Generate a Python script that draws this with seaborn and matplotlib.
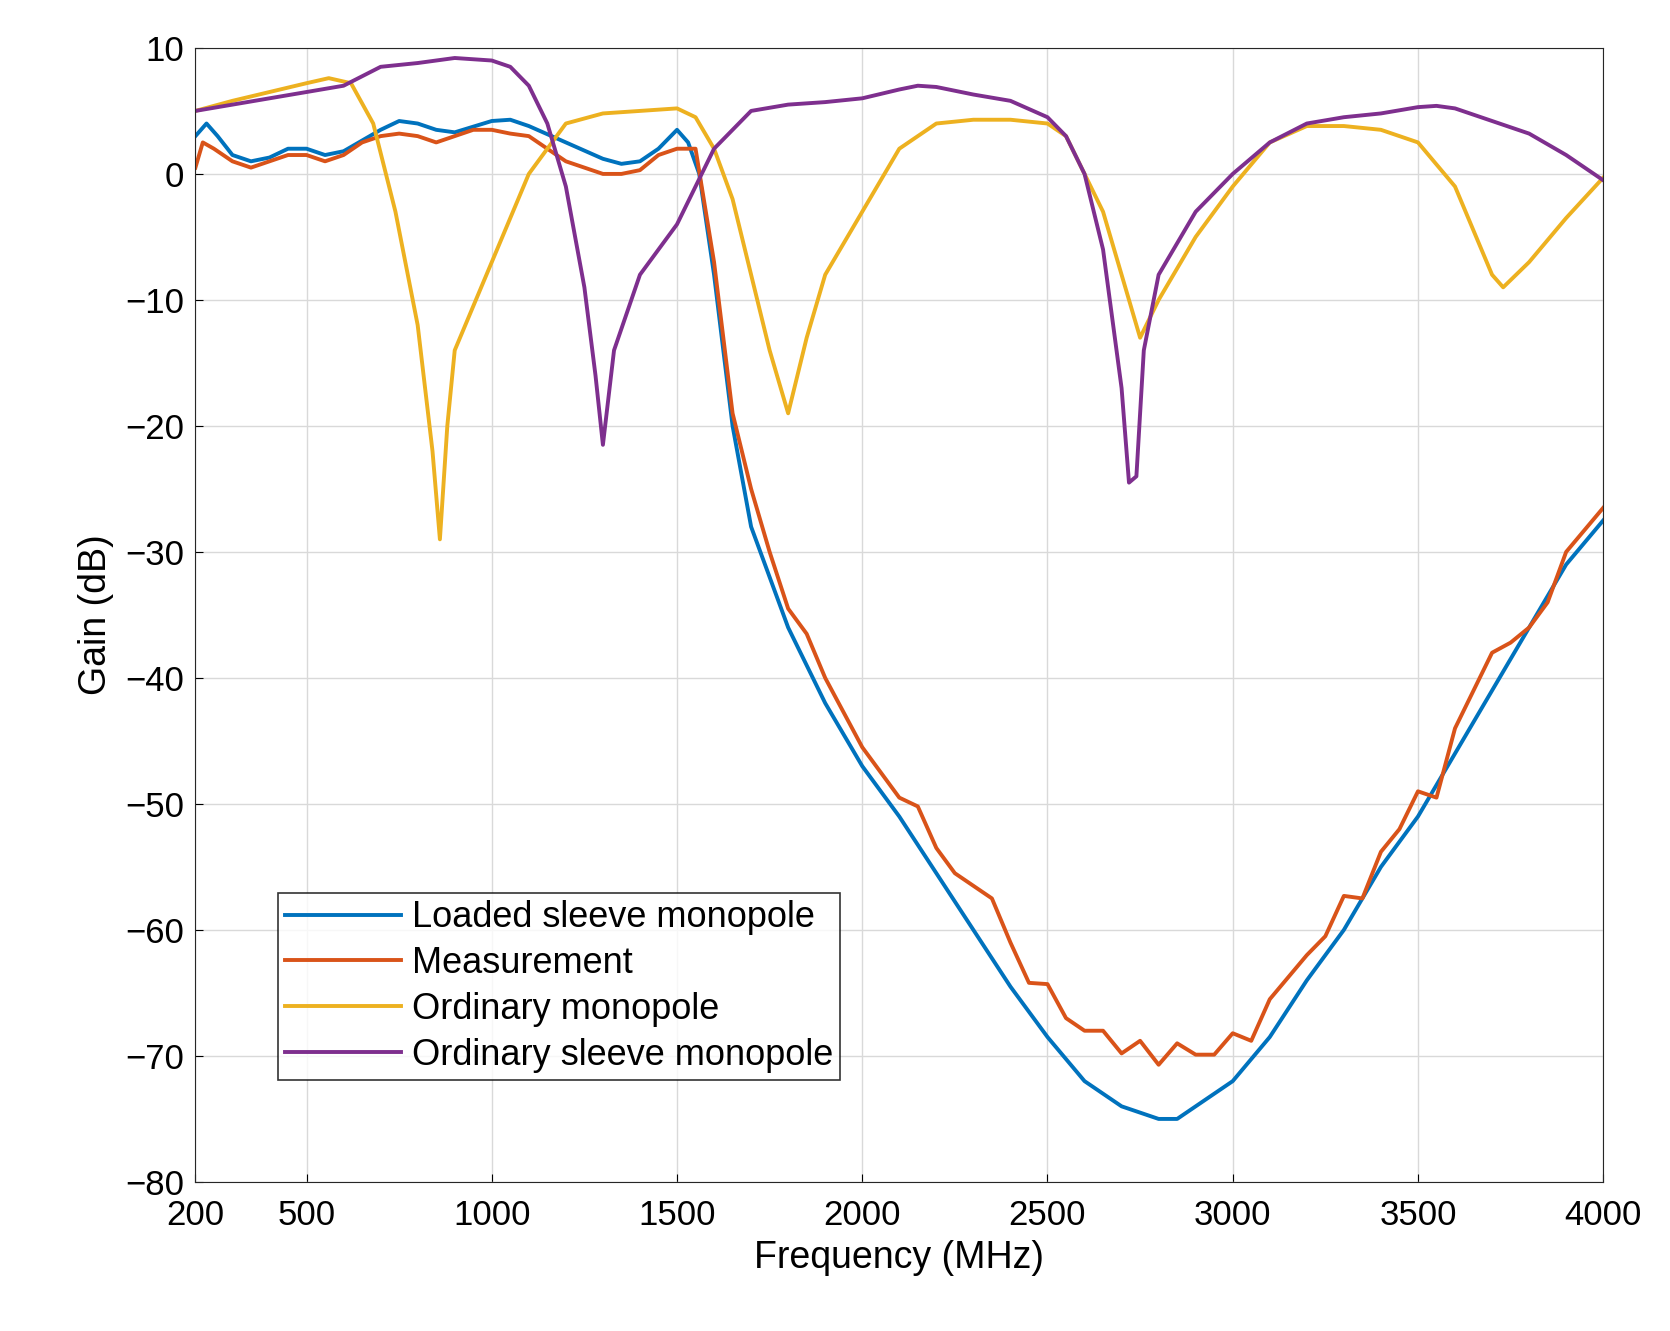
import matplotlib
matplotlib.use("Agg")
import matplotlib.pyplot as plt
import seaborn as sns
import pandas as pd

f_loaded = [200,230,260,300,350,400,450,500,550,600,700,750,800,850,900,1000,1050,1100,1200,1300,1350,1400,1450,1500,1530,1560,1600,1650,1700,1800,1900,2000,2100,2200,2300,2400,2500,2600,2700,2800,2850,2900,3000,3100,3200,3300,3400,3500,3600,3700,3800,3900,4000]
g_loaded = [3,4,3,1.5,1,1.3,2,2,1.5,1.8,3.5,4.2,4,3.5,3.3,4.2,4.3,3.8,2.5,1.2,0.8,1,2,3.5,2.5,0,-8,-20,-28,-36,-42,-47,-51,-55.5,-60,-64.5,-68.5,-72,-74,-75,-75,-74,-72,-68.5,-64,-60,-55,-51,-46,-41,-36,-31,-27.5]

f_meas = [200,220,250,300,350,400,450,500,550,600,650,700,750,800,850,900,950,1000,1050,1100,1200,1300,1350,1400,1450,1500,1550,1600,1650,1700,1750,1800,1850,1900,2000,2100,2150,2200,2250,2300,2350,2400,2450,2500,2550,2600,2650,2700,2750,2800,2850,2900,2950,3000,3050,3100,3200,3250,3300,3350,3400,3450,3500,3550,3600,3700,3750,3800,3850,3900,4000]
g_meas = [0.5,2.5,2,1,0.5,1,1.5,1.5,1,1.5,2.5,3,3.2,3,2.5,3,3.5,3.5,3.2,3,1,0,0,0.3,1.5,2,2,-7,-19,-25,-30,-34.5,-36.5,-40,-45.5,-49.5,-50.2,-53.5,-55.5,-56.5,-57.5,-61,-64.2,-64.3,-67,-68,-68,-69.8,-68.8,-70.7,-69,-69.9,-69.9,-68.2,-68.8,-65.5,-62,-60.5,-57.3,-57.5,-53.8,-52,-49,-49.5,-44,-38,-37.2,-36,-34,-30,-26.5]

f_ord = [200,300,400,500,560,620,680,740,800,840,860,880,900,1000,1100,1200,1300,1400,1500,1550,1600,1650,1700,1750,1800,1850,1900,2000,2100,2200,2300,2400,2500,2550,2600,2650,2700,2750,2800,2900,3000,3100,3200,3300,3400,3500,3600,3700,3730,3800,3900,4000]
g_ord = [5,5.8,6.5,7.2,7.6,7.2,4,-3,-12,-22,-29,-20,-14,-7,0,4,4.8,5,5.2,4.5,2,-2,-8,-14,-19,-13,-8,-3,2,4,4.3,4.3,4,3,0,-3,-8,-13,-10,-5,-1,2.5,3.8,3.8,3.5,2.5,-1,-8,-9,-7,-3.5,-0.3]

f_sleeve = [200,300,400,500,600,700,800,900,1000,1050,1100,1150,1200,1250,1280,1300,1330,1400,1500,1550,1600,1700,1800,1900,2000,2100,2150,2200,2300,2400,2500,2550,2600,2650,2700,2720,2740,2760,2800,2900,3000,3100,3200,3300,3400,3500,3550,3600,3700,3800,3900,4000]
g_sleeve = [5,5.5,6,6.5,7,8.5,8.8,9.2,9,8.5,7,4,-1,-9,-16,-21.5,-14,-8,-4,-1,2,5,5.5,5.7,6,6.7,7,6.9,6.3,5.8,4.5,3,0,-6,-17,-24.5,-24,-14,-8,-3,0,2.5,4,4.5,4.8,5.3,5.4,5.2,4.2,3.2,1.5,-0.5]

labels = ["Loaded sleeve monopole", "Measurement", "Ordinary monopole", "Ordinary sleeve monopole"]
colors = ["#0072BD", "#D95319", "#EDB120", "#7E2F8E"]
xticks = [200, 500, 1000, 1500, 2000, 2500, 3000, 3500, 4000]
yticks = list(range(-80, 11, 10))

frames = []
for lab, f, g in zip(labels, [f_loaded, f_meas, f_ord, f_sleeve], [g_loaded, g_meas, g_ord, g_sleeve]):
    frames.append(pd.DataFrame({"Frequency": f, "Gain": g, "Series": lab}))
df = pd.concat(frames, ignore_index=True)

plt.rcParams["font.family"] = "Liberation Sans"
fig = plt.figure(figsize=(16.7, 13.31), dpi=100)
ax = fig.add_axes([0.117, 0.112, 0.843, 0.852])
sns.lineplot(data=df, x="Frequency", y="Gain", hue="Series", palette=colors,
             hue_order=labels, sort=False, linewidth=2.8, ax=ax)
ax.set_xlim(200, 4000)
ax.set_ylim(-80, 10)
ax.set_xticks(xticks)
ax.set_yticks(yticks)
ax.set_yticklabels([str(t).replace("-", "\u2212") for t in yticks])
ax.tick_params(labelsize=25, direction="in", length=6)
ax.tick_params(axis="x", pad=12)
ax.tick_params(axis="y", pad=8)
ax.grid(True, color="#d9d9d9", linewidth=1)
ax.set_xlabel("Frequency (MHz)", fontsize=27, labelpad=6)
ax.set_ylabel("Gain (dB)", fontsize=27, labelpad=8)
for s in ax.spines.values():
    s.set_color("#262626")
leg = ax.legend(loc="lower left", bbox_to_anchor=(0.046, 0.074), fontsize=26,
                frameon=True, fancybox=False, edgecolor="black", handlelength=3.2,
                borderpad=0.2, labelspacing=0.3, handletextpad=0.3)
leg.get_frame().set_linewidth(1.2)
fig.savefig("out.png", dpi=100, facecolor="white")
